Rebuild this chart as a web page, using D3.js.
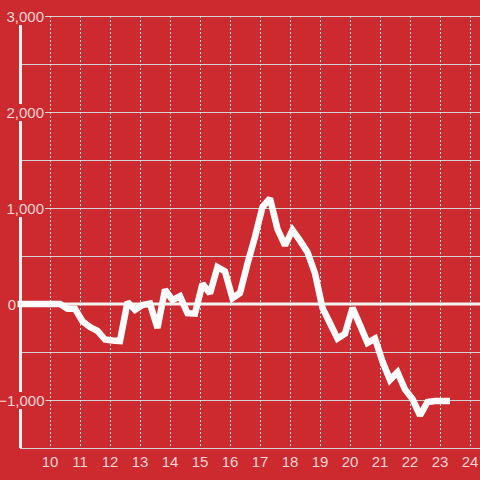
<!DOCTYPE html>
<html><head><meta charset="utf-8">
<script src="https://cdn.jsdelivr.net/npm/d3@7"></script>
<style>html,body{margin:0;padding:0;background:#cc2a2f;}svg{display:block;}</style>
</head><body>
<svg id="c" width="480" height="480"></svg>
<script>
// hours of day (decimal) and values
const times = [8.92,9.083,9.333,9.583,9.833,10.083,10.333,10.583,10.833,11.083,11.333,11.583,11.833,12.083,12.333,12.583,12.833,13.083,13.333,13.583,13.833,14.083,14.333,14.583,14.833,15.083,15.333,15.583,15.833,16.083,16.333,16.583,16.833,17.083,17.333,17.583,17.833,18.083,18.333,18.583,18.833,19.083,19.333,19.583,19.833,20.083,20.333,20.583,20.833,21.083,21.333,21.583,21.833,22.083,22.333,22.583,22.833,23.083,23.333];
const values = [0,0,0,0,0,0,0,-50,-50,-180,-240,-280,-370,-380,-385,20,-60,-10,5,-250,150,40,80,-95,-100,210,110,385,340,60,115,420,700,1010,1100,780,610,770,660,540,320,-40,-200,-360,-310,-40,-220,-405,-360,-600,-790,-710,-890,-990,-1160,-1020,-1010,-1010,-1010];
const yTicks = [-1000,0,1000,2000,3000];
const yMinor = [-500,500,1500,2500];
const xTicks = [10,11,12,13,14,15,16,17,18,19,20,21,22,23,24];

const W=480,H=480;
const svg=d3.select("#c");
const x=d3.scaleLinear().domain([9,24.333]).range([20,480]);
const y=d3.scaleLinear().domain([-1500,3000]).range([448,16]);
const font="'Liberation Sans', Arial, sans-serif";
const txt="#f4d4d4";
const bg="#cc2a2f";

svg.append("rect").attr("width",W).attr("height",H).attr("fill",bg);

// horizontal gridlines
svg.append("g").selectAll("line").data(yMinor.concat(yTicks.filter(d=>d!==0))).join("line")
  .attr("x1",20).attr("x2",480).attr("y1",d=>y(d)+0.5).attr("y2",d=>y(d)+0.5)
  .attr("stroke","#d2d2d2").attr("stroke-width",1);
// vertical dotted gridlines
svg.append("g").selectAll("line").data(xTicks).join("line")
  .attr("x1",d=>x(d)+0.5).attr("x2",d=>x(d)+0.5).attr("y1",y(3000)).attr("y2",y(-1500))
  .attr("stroke","#e6e6e6").attr("stroke-width",1).attr("stroke-dasharray","2,2");
// bottom axis line
svg.append("line").attr("x1",20).attr("x2",480).attr("y1",y(-1500)+0.5).attr("y2",y(-1500)+0.5)
  .attr("stroke","#d2d2d2").attr("stroke-width",1);
// zero line
svg.append("line").attr("x1",20).attr("x2",480).attr("y1",y(0)).attr("y2",y(0))
  .attr("stroke","#f2f2f2").attr("stroke-width",3);
// left axis line
svg.append("line").attr("x1",20.5).attr("x2",20.5).attr("y1",y(3000)).attr("y2",y(-1500))
  .attr("stroke","#f2f2f2").attr("stroke-width",3);

// y labels with background
const fmt=d3.format(",");
const yl=svg.append("g").selectAll("g").data(yTicks).join("g");
yl.append("text").attr("x",d=>d===0?16:(d<0?44.5:44)).attr("y",d=>y(d)+6).attr("text-anchor","end")
  .attr("font-family",font).attr("font-size",15).attr("fill",txt).text(d=>fmt(d))
  .each(function(){
    const b=this.getBBox();
    d3.select(this.parentNode).insert("rect","text")
      .attr("x",b.x-1).attr("y",b.y).attr("width",b.width+2).attr("height",b.height)
      .attr("fill",bg);
  });

// data line
const line=d3.line().x((d,i)=>x(times[i])).y(d=>y(d));
svg.append("path").datum(values).attr("d",line)
  .attr("fill","none").attr("stroke","#ffffff").attr("stroke-width",6.5)
  .attr("stroke-linejoin","miter").attr("stroke-miterlimit",2).attr("stroke-linecap","butt");

// x labels
svg.append("g").selectAll("text").data(xTicks).join("text")
  .attr("x",d=>x(d)).attr("y",467).attr("text-anchor","middle")
  .attr("font-family",font).attr("font-size",15).attr("fill",txt).text(d=>d);
</script>
</body></html>
